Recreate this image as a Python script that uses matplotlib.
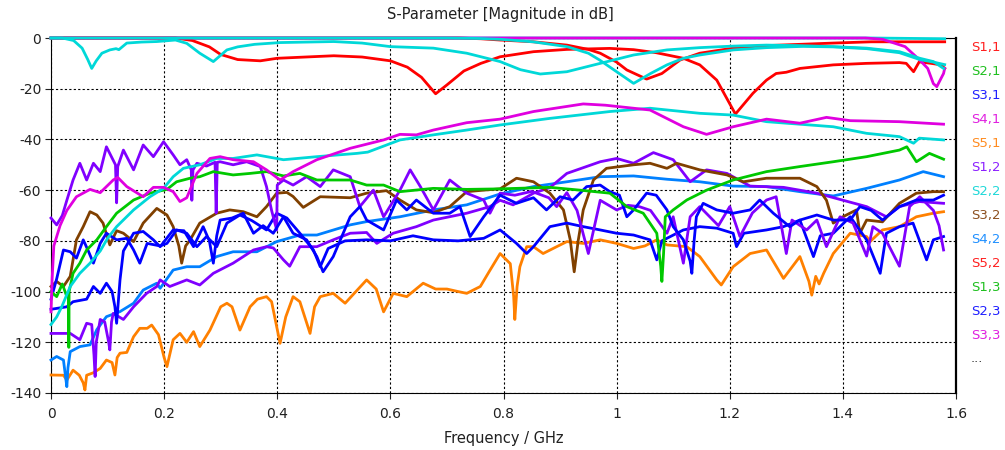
import matplotlib
matplotlib.use("Agg")
import matplotlib.pyplot as plt

plt.rcParams["axes.unicode_minus"] = False
plt.rcParams["font.family"] = ["DejaVu Sans"]

# curves: (frequency GHz, magnitude dB)
red_a = [(0, 0), (0.22, 0), (0.25, -1), (0.28, -3.5), (0.30, -6.5), (0.33, -8.5), (0.37, -9), (0.40, -8),
         (0.45, -7.5), (0.50, -7), (0.55, -7.5), (0.60, -9), (0.63, -11.5), (0.655, -15.5), (0.68, -22),
         (0.70, -18.5), (0.73, -13), (0.76, -10), (0.794, -7.4), (0.853, -5.4), (0.912, -4.5), (0.988, -4.1),
         (1.03, -4.6), (1.07, -5.8), (1.118, -8), (1.147, -10.6), (1.177, -16.6), (1.21, -30), (1.241, -21.8),
         (1.265, -16.6), (1.282, -14), (1.30, -13.5), (1.324, -12), (1.383, -10.6), (1.442, -10), (1.50, -9.7),
         (1.512, -10), (1.525, -13.3), (1.535, -9.4), (1.556, -10), (1.574, -10.6), (1.58, -12)]
red_b = [(0, 0), (0.72, 0), (0.76, -0.3), (0.794, -0.8), (0.853, -1.5), (0.912, -2.8), (0.95, -4.5),
         (0.971, -6), (1.0, -9.5), (1.018, -12.6), (1.053, -16.2), (1.08, -14), (1.112, -8.7), (1.147, -6),
         (1.206, -4), (1.265, -3), (1.383, -2), (1.45, -1.5), (1.58, -1.5)]
cyan_a = [(0, 0), (1.45, 0), (1.58, -0.3)]
cyan_b = [(0, 0), (0.02, 0), (0.04, -1), (0.055, -4), (0.065, -8.5), (0.072, -12), (0.08, -9), (0.09, -6),
          (0.104, -4.7), (0.115, -4.2), (0.12, -4.6), (0.134, -2), (0.16, -1.6), (0.187, -1.4), (0.22, -0.8),
          (0.24, -2.1), (0.263, -6), (0.287, -9.3), (0.311, -4.7), (0.33, -3.5), (0.36, -2.5), (0.405, -1.8),
          (0.5, -1.4), (0.55, -2), (0.6, -3.4), (0.676, -4), (0.735, -6), (0.794, -9.3), (0.83, -12.5),
          (0.865, -14.2), (0.912, -13.3), (0.971, -10), (1.03, -6.7), (1.089, -4.7), (1.147, -3.8),
          (1.206, -3.2), (1.265, -2.8), (1.32, -3), (1.383, -3.4), (1.442, -4), (1.5, -5.4), (1.536, -8),
          (1.56, -9.3), (1.578, -12)]
cyan_c = [(0, 0), (0.70, 0), (0.76, -0.2), (0.794, -0.5), (0.852, -1.5), (0.912, -3.4), (0.95, -6),
          (0.97, -8.7), (1.0, -13.3), (1.03, -17.9), (1.06, -14), (1.089, -10.6), (1.118, -8), (1.147, -6.7),
          (1.206, -4.7), (1.265, -3.8), (1.33, -3.3), (1.383, -3.5), (1.442, -4.2), (1.5, -5.8), (1.536, -8.5),
          (1.56, -9.5), (1.58, -10.5)]
magenta_top = [(0, 0), (1.44, 0), (1.47, -0.5), (1.51, -3.4), (1.536, -8.7), (1.55, -12), (1.56, -18),
               (1.566, -19.2), (1.578, -14), (1.58, -12)]
magenta_mid = [(0, -108), (0.002, -95), (0.005, -82), (0.016, -74), (0.028, -68), (0.045, -62.6),
               (0.069, -59.7), (0.087, -61), (0.11, -56), (0.118, -55), (0.134, -58.6), (0.163, -62.6),
               (0.181, -58.9), (0.199, -58.9), (0.216, -60.6), (0.228, -64.5), (0.24, -63), (0.258, -53.4),
               (0.281, -47.5), (0.299, -46.8), (0.322, -48), (0.358, -48.8), (0.381, -52), (0.405, -56),
               (0.428, -52.7), (0.47, -48), (0.529, -43.5), (0.588, -40.2), (0.617, -38), (0.646, -38.2),
               (0.676, -36.3), (0.735, -33.4), (0.794, -32), (0.853, -29), (0.941, -26), (0.98, -26.5),
               (1.059, -28.4), (1.118, -35), (1.159, -38), (1.206, -35), (1.265, -32), (1.324, -33.6),
               (1.371, -31.3), (1.413, -32.6), (1.5, -33), (1.578, -34)]
cyan_mid = [(0, -113), (0.01, -110), (0.019, -106), (0.034, -98), (0.051, -92.8), (0.069, -88.8),
            (0.087, -84), (0.1, -79), (0.116, -74.4), (0.146, -67.8), (0.175, -62.6), (0.199, -59.3),
            (0.216, -54.7), (0.234, -51.4), (0.263, -50), (0.293, -47.5), (0.322, -47.5), (0.364, -46.1),
            (0.411, -48), (0.47, -46.8), (0.541, -45.5), (0.56, -45), (0.617, -40.2), (0.676, -38.2),
            (0.735, -36.3), (0.794, -34.3), (0.882, -31.7), (0.988, -29), (1.059, -27.7), (1.147, -29.7),
            (1.206, -30.4), (1.265, -33), (1.383, -35), (1.442, -37.6), (1.5, -38.9), (1.525, -41.5),
            (1.535, -39.5), (1.578, -40.2)]
green = [(0, -100), (0.01, -102), (0.02, -97), (0.028, -102), (0.031, -100), (0.0315, -122), (0.032, -100),
         (0.039, -92.8), (0.051, -88.8), (0.063, -83.6), (0.081, -79.6), (0.098, -74.4), (0.116, -69.1),
         (0.146, -63.9), (0.175, -61.2), (0.205, -59.7), (0.222, -56.7), (0.246, -55.3), (0.263, -54.7),
         (0.287, -52.7), (0.322, -54), (0.352, -53.4), (0.381, -52.7), (0.411, -54.4), (0.44, -53.4),
         (0.47, -56), (0.529, -56), (0.558, -58), (0.588, -58), (0.617, -60.6), (0.676, -59.3),
         (0.735, -59.7), (0.794, -59.5), (0.882, -58.9), (0.935, -60), (0.988, -61.2), (1.018, -66.5),
         (1.047, -69.1), (1.071, -77), (1.078, -90), (1.08, -96), (1.083, -85), (1.086, -70.5), (1.1, -67.8),
         (1.124, -63.9), (1.159, -60), (1.206, -56), (1.265, -52.7), (1.324, -50.7), (1.383, -48.8),
         (1.442, -46.8), (1.5, -44.2), (1.513, -42.9), (1.53, -48.8), (1.553, -45.5), (1.578, -47.8)]
brown = [(0, -98), (0.01, -96), (0.022, -98), (0.034, -94), (0.045, -79.6), (0.057, -74.4), (0.069, -68.5),
         (0.081, -69.8), (0.092, -73), (0.104, -81.6), (0.116, -76), (0.128, -77), (0.146, -80.3),
         (0.163, -73), (0.187, -67.2), (0.205, -69.8), (0.216, -74.4), (0.226, -82), (0.231, -88.8),
         (0.238, -82), (0.246, -79.6), (0.263, -73), (0.293, -69.1), (0.316, -67.8), (0.34, -68.5),
         (0.364, -70.5), (0.381, -66.5), (0.399, -61.2), (0.417, -60.9), (0.428, -62.5), (0.446, -66.8),
         (0.476, -62.6), (0.529, -63), (0.558, -61.2), (0.593, -60.2), (0.617, -63.9), (0.646, -67.8),
         (0.676, -68.9), (0.705, -66.5), (0.735, -60.6), (0.765, -60), (0.794, -59.5), (0.823, -55.3),
         (0.853, -56.7), (0.882, -61.2), (0.906, -67.8), (0.918, -79.6), (0.925, -92.2), (0.932, -80),
         (0.941, -67.8), (0.959, -56), (0.982, -51.4), (1.03, -50), (1.059, -49.4), (1.089, -51.4),
         (1.106, -49.4), (1.147, -52), (1.195, -54), (1.224, -56.7), (1.265, -55.3), (1.324, -55.3),
         (1.354, -58.6), (1.371, -64), (1.383, -73), (1.40, -70.5), (1.424, -67.8), (1.43, -77),
         (1.442, -71.8), (1.47, -72.5), (1.5, -65.2), (1.53, -61.2), (1.56, -60.6), (1.578, -60.6)]
light_blue = [(0, -127), (0.01, -125.6), (0.022, -127), (0.026, -134), (0.028, -137.5), (0.03, -130),
              (0.034, -123.7), (0.051, -121.7), (0.069, -121), (0.081, -115), (0.098, -109.9),
              (0.122, -107.9), (0.146, -104.6), (0.163, -99.4), (0.187, -96.7), (0.193, -98.7),
              (0.216, -91.5), (0.24, -90.2), (0.263, -90.2), (0.293, -86.2), (0.322, -84.3), (0.364, -84.3),
              (0.399, -80.3), (0.44, -77.7), (0.47, -77.7), (0.529, -73.7), (0.558, -72.4), (0.617, -70.5),
              (0.676, -67.8), (0.735, -65.8), (0.794, -61.5), (0.853, -58.6), (0.912, -56.7), (0.971, -54.7),
              (1.03, -54.4), (1.089, -55.7), (1.147, -56.7), (1.206, -58.4), (1.265, -58.6), (1.324, -60.6),
              (1.383, -62.3), (1.442, -59.3), (1.5, -56), (1.542, -52.7), (1.578, -54.7)]
orange = [(0, -132.9), (0.022, -133), (0.028, -134.9), (0.039, -131), (0.05, -133), (0.057, -136),
          (0.06, -138.8), (0.063, -133), (0.075, -132), (0.087, -130.3), (0.098, -127), (0.108, -128),
          (0.113, -132.9), (0.117, -126), (0.122, -124.3), (0.134, -124), (0.146, -117.8), (0.157, -114.5),
          (0.17, -114.5), (0.178, -113.2), (0.19, -117), (0.2, -126), (0.205, -129.6), (0.216, -119),
          (0.228, -116.5), (0.24, -120), (0.252, -115.8), (0.263, -121.7), (0.281, -115.2), (0.30, -106),
          (0.311, -104.6), (0.32, -106), (0.334, -115.2), (0.352, -106), (0.365, -103), (0.381, -102),
          (0.39, -104), (0.405, -120.4), (0.415, -110), (0.428, -102), (0.44, -104), (0.458, -116.5),
          (0.466, -106), (0.476, -102), (0.499, -100.7), (0.52, -104.6), (0.558, -95.4), (0.575, -99),
          (0.588, -108), (0.605, -100.7), (0.629, -102), (0.658, -96.7), (0.68, -99), (0.7, -99),
          (0.72, -100), (0.735, -100.7), (0.759, -98), (0.775, -92), (0.794, -85), (0.812, -89),
          (0.818, -102), (0.82, -111), (0.824, -98), (0.829, -90.2), (0.841, -82.3), (0.853, -82.3),
          (0.87, -85), (0.894, -82.3), (0.912, -80.3), (0.941, -81), (0.971, -79.6), (1.0, -81), (1.03, -83),
          (1.05, -82), (1.071, -79.6), (1.089, -81.6), (1.124, -82.3), (1.147, -86.2), (1.177, -95.4),
          (1.185, -97.4), (1.206, -90.2), (1.236, -85), (1.265, -83.6), (1.295, -94.8), (1.324, -86.2),
          (1.34, -96), (1.345, -101.4), (1.352, -94), (1.358, -97), (1.366, -92.8), (1.383, -85),
          (1.413, -77), (1.442, -78.3), (1.448, -80.3), (1.47, -75.7), (1.5, -74.4), (1.53, -70.5),
          (1.56, -69.1), (1.578, -68.5)]
purple_a = [(0, -71), (0.01, -73.7), (0.02, -70), (0.028, -64), (0.039, -56), (0.051, -49.4), (0.063, -56),
            (0.075, -49.4), (0.087, -52.7), (0.098, -42.9), (0.114, -50), (0.116, -65), (0.118, -50.7),
            (0.128, -44.2), (0.146, -52), (0.163, -42.2), (0.181, -46.8), (0.199, -40.9), (0.216, -46.1),
            (0.228, -50), (0.24, -48), (0.248, -52), (0.249, -64), (0.251, -52), (0.258, -49.4),
            (0.275, -50.5), (0.29, -49), (0.292, -69), (0.294, -49), (0.299, -48.8), (0.322, -50),
            (0.346, -48.8), (0.37, -50.7), (0.381, -58.6), (0.39, -68), (0.399, -75.7), (0.40, -58),
            (0.411, -56), (0.428, -58), (0.452, -54.7), (0.476, -58.6), (0.499, -52), (0.529, -54.7),
            (0.546, -66.5), (0.57, -60), (0.588, -70.5), (0.617, -60), (0.635, -52), (0.653, -58.6),
            (0.676, -67.8), (0.705, -56), (0.735, -61.2), (0.765, -63.9), (0.776, -69.1), (0.794, -61.2),
            (0.82, -62), (0.85, -60.5), (0.88, -63), (0.894, -66.5), (0.912, -61), (0.93, -68), (0.95, -85),
            (0.971, -64), (1.0, -67.8), (1.02, -66), (1.04, -66.5), (1.06, -68), (1.089, -77), (1.1, -70.5),
            (1.118, -88.8), (1.13, -70.5), (1.147, -66.5), (1.18, -74), (1.2, -66.5), (1.218, -78.3),
            (1.24, -69), (1.265, -63.9), (1.282, -62.6), (1.3, -85), (1.31, -71.8), (1.336, -75.7),
            (1.354, -71.8), (1.371, -82.3), (1.395, -70.5), (1.418, -73), (1.442, -86), (1.453, -74.4),
            (1.47, -77), (1.5, -90), (1.518, -66.5), (1.536, -62.6), (1.56, -68), (1.57, -74), (1.578, -83.6)]
purple_b = [(0, -116.5), (0.034, -116.5), (0.051, -119), (0.063, -112.5), (0.072, -113), (0.076, -125),
            (0.078, -133.5), (0.08, -120), (0.087, -111), (0.095, -112), (0.102, -120), (0.104, -123),
            (0.107, -112), (0.11, -108.6), (0.128, -111), (0.146, -106), (0.169, -100.7), (0.187, -98),
            (0.193, -95.4), (0.21, -98), (0.24, -95.4), (0.263, -97.4), (0.287, -92.8), (0.322, -88.8),
            (0.358, -83.6), (0.381, -82.3), (0.393, -82.8), (0.411, -87.5), (0.422, -90), (0.44, -82.3),
            (0.47, -82.3), (0.499, -79.6), (0.529, -77), (0.558, -76.7), (0.576, -81), (0.605, -77),
            (0.646, -74.4), (0.676, -71.8), (0.735, -69.1), (0.776, -66.5), (0.794, -64), (0.817, -65.8),
            (0.853, -61.2), (0.882, -59), (0.912, -53.4), (0.971, -48.8), (1.0, -47.5), (1.03, -49.4),
            (1.065, -45.2), (1.1, -48), (1.13, -56.7), (1.159, -52), (1.195, -53.4), (1.236, -58.4),
            (1.295, -58.9), (1.354, -61.2), (1.442, -66.5), (1.477, -70.5), (1.5, -66.5), (1.535, -64.5),
            (1.578, -65.2)]
blue_a = [(0, -107), (0.028, -106), (0.039, -104), (0.063, -103), (0.075, -98), (0.087, -100.7),
          (0.098, -96.7), (0.108, -100), (0.113, -106), (0.116, -112.5), (0.119, -104), (0.122, -95.4),
          (0.128, -84), (0.146, -77), (0.163, -76.3), (0.181, -79.6), (0.193, -82.3), (0.216, -75.7),
          (0.235, -76), (0.252, -82.3), (0.269, -74.4), (0.28, -80), (0.287, -88.8), (0.293, -78),
          (0.299, -71.8), (0.32, -71), (0.34, -69.1), (0.358, -77), (0.375, -74), (0.393, -77),
          (0.411, -70.5), (0.428, -77), (0.452, -79.6), (0.47, -86.2), (0.481, -92.2), (0.499, -86.2),
          (0.529, -70.5), (0.546, -66.5), (0.558, -71.8), (0.588, -75.7), (0.611, -63.9), (0.629, -67.8),
          (0.646, -63.9), (0.676, -69.1), (0.705, -69.1), (0.723, -66.5), (0.741, -78.3), (0.765, -70.5),
          (0.794, -62), (0.823, -65.2), (0.853, -63), (0.876, -67.8), (0.9, -62.6), (0.923, -63.9),
          (0.947, -58.6), (0.971, -58), (0.988, -60.6), (1.005, -62), (1.018, -70.5), (1.03, -67.8),
          (1.053, -61.2), (1.07, -62), (1.089, -67.8), (1.1, -74.4), (1.118, -79.6), (1.13, -88),
          (1.133, -92.8), (1.137, -80), (1.141, -70.5), (1.153, -65.2), (1.177, -67.8), (1.206, -69.1),
          (1.236, -67.8), (1.253, -63.9), (1.277, -69.1), (1.306, -74.4), (1.324, -71.8), (1.354, -69.8),
          (1.383, -71.8), (1.413, -71.8), (1.43, -66.5), (1.45, -68), (1.47, -71.8), (1.5, -66.5),
          (1.53, -63.9), (1.56, -63.9), (1.578, -62)]
blue_b = [(0, -103), (0.01, -95), (0.022, -83.6), (0.034, -84.3), (0.045, -86.8), (0.057, -79.6),
          (0.066, -84), (0.075, -88.8), (0.087, -81), (0.098, -77), (0.116, -79.6), (0.134, -79),
          (0.146, -83.6), (0.157, -88.8), (0.17, -81), (0.193, -82), (0.205, -81), (0.222, -75.7),
          (0.24, -77), (0.258, -82.3), (0.275, -78.3), (0.293, -82.3), (0.311, -73), (0.334, -69.8),
          (0.355, -72), (0.381, -75.7), (0.399, -69.1), (0.417, -71), (0.44, -77), (0.464, -83.6),
          (0.476, -90.2), (0.49, -83), (0.52, -80), (0.558, -79.6), (0.6, -80), (0.64, -78), (0.676, -79.6),
          (0.72, -80), (0.765, -79), (0.794, -75.7), (0.823, -81), (0.841, -85), (0.853, -82.3),
          (0.882, -74.4), (0.912, -73), (0.941, -74.4), (0.971, -75.7), (1.0, -77), (1.03, -77.7),
          (1.059, -79.6), (1.071, -87.5), (1.08, -80), (1.118, -75.7), (1.147, -74.4), (1.177, -75),
          (1.206, -77), (1.212, -82.3), (1.225, -77), (1.265, -75.7), (1.295, -74.4), (1.324, -71.8),
          (1.348, -86.2), (1.36, -78), (1.383, -77), (1.413, -70.5), (1.442, -79.6), (1.466, -92.8),
          (1.477, -77), (1.5, -74.4), (1.524, -73), (1.548, -87.5), (1.56, -79.6), (1.578, -78.3)]

legend_labels = ["S1,1", "S2,1", "S3,1", "S4,1", "S5,1", "S1,2", "S2,2", "S3,2", "S4,2",
                 "S5,2", "S1,3", "S2,3", "S3,3", "..."]
legend_colors = ["#ff2020", "#20c020", "#2020ff", "#e020e0", "#ff8c20", "#8c20ff", "#20d8d8",
                 "#8c5020", "#2090ff", "#ff2020", "#20c020", "#2020ff", "#e020e0", "#404040"]

RED, GREEN, BLUE, MAGENTA = "#ff0000", "#00c800", "#0000ff", "#e000e0"
ORANGE, PURPLE, CYAN, BROWN, LBLUE = "#ff8000", "#8000ff", "#00d8d8", "#804000", "#0080ff"

# drawing order, bottom to top
curves = [
    (cyan_a, CYAN), (red_b, RED), (red_a, RED), (magenta_top, MAGENTA), (cyan_c, CYAN), (cyan_b, CYAN),
    (orange, ORANGE), (light_blue, LBLUE), (purple_b, PURPLE), (brown, BROWN), (blue_b, BLUE),
    (purple_a, PURPLE), (blue_a, BLUE), (green, GREEN), (cyan_mid, CYAN), (magenta_mid, MAGENTA),
]

fig = plt.figure(figsize=(10.05, 4.5), dpi=100)
ax = fig.add_axes([51 / 1005, 1 - 393 / 450, 905 / 1005, 355 / 450])

for pts, color in curves:
    f = [p[0] for p in pts]
    db = [p[1] for p in pts]
    ax.plot(f, db, color=color, lw=2.0, solid_joinstyle="round", zorder=3, clip_on=False)

ax.set_xlim(0, 1.6)
ax.set_ylim(-140, 0)
ax.set_xticks([0, 0.2, 0.4, 0.6, 0.8, 1, 1.2, 1.4, 1.6])
ax.set_xticklabels(["0", "0.2", "0.4", "0.6", "0.8", "1", "1.2", "1.4", "1.6"])
ax.set_yticks(range(-140, 1, 20))
ax.grid(True, color="black", ls=(0, (2, 2)), lw=0.8, zorder=1)
ax.tick_params(direction="out", length=4, width=0.8, labelsize=10, colors="#202020")
ax.tick_params(axis="x", pad=6)
ax.tick_params(axis="y", pad=3)
for side in ["left", "bottom", "top"]:
    ax.spines[side].set_linewidth(0.8)
ax.spines["right"].set_linewidth(1.6)

fig.text(0.498, 1 - 15 / 450, "S-Parameter [Magnitude in dB]", ha="center", va="center",
         fontsize=10.5, color="#202020")
fig.text(0.501, 1 - 438 / 450, "Frequency / GHz", ha="center", va="center", fontsize=10.5, color="#202020")

for i, (label, color) in enumerate(zip(legend_labels, legend_colors)):
    fig.text(971 / 1005, 1 - (47 + 24 * i) / 450, label, ha="left", va="center", fontsize=9.5, color=color)

fig.savefig("out.png", dpi=100)
